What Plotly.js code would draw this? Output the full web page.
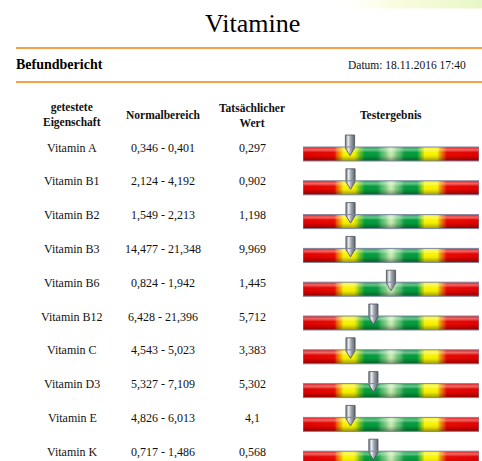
<!DOCTYPE html>
<html><head><meta charset="utf-8">
<script src="https://cdn.plot.ly/plotly-3.0.1.min.js"></script>
<style>html,body{margin:0;padding:0;background:#fff;} #chart{width:482px;height:461px;}</style>
</head><body><div id="chart"></div>
<script>
// ---- data ----
const vitamins = ['Vitamin A','Vitamin B1','Vitamin B2','Vitamin B3','Vitamin B6','Vitamin B12','Vitamin C','Vitamin D3','Vitamin E','Vitamin K'];
const rangeLow = [0.346, 2.124, 1.549, 14.477, 0.824, 6.428, 4.543, 5.327, 4.826, 0.717];
const rangeHigh = [0.401, 4.192, 2.213, 21.348, 1.942, 21.396, 5.023, 7.109, 6.013, 1.486];
const actualValue = [0.297, 0.902, 1.198, 9.969, 1.445, 5.712, 3.383, 5.302, 4.1, 0.568];
const pointerPos = [26.7, 27, 27, 27, 50, 40, 27, 40, 27, 40]; // pointer position on the gauge (0-100)
const headers = {name: 'getestete<br>Eigenschaft', range: 'Normalbereich', value: 'Tatsächlicher<br>Wert', gauge: 'Testergebnis'};
const gaugeStops = [[0,'#e00000'],[0.175,'#e80800'],[0.23,'#f8f400'],[0.29,'#f8f300'],[0.35,'#009c3c'],[0.42,'#089a40'],[0.5,'#cdeeb4'],[0.58,'#089a40'],[0.65,'#009c3c'],[0.69,'#f8f300'],[0.76,'#f8f400'],[0.815,'#e80800'],[1,'#e00000']];

// ---- layout constants ----
const W = 482, H = 461;
const firstRowPx = 154, rowStepPx = 33.8, barHalfPx = 7;
const gaugeLeftPx = 303, gaugeRightPx = 479;
const h = barHalfPx / rowStepPx;
const unitPerPx = 100 / (gaugeRightPx - gaugeLeftPx);
const pointerHalf = 4.6 * unitPerPx;
const fmt = v => String(v).replace('.', ',');
const py = px => 1 - px / H;
const SERIF = 'Liberation Serif';

const traces = [];
const shapes = [];
const annotations = [];

// gauge colour ramp
const nCells = 200;
const xEdges = [], zRow = [];
for (let k = 0; k <= nCells; k++) xEdges.push(k * 100 / nCells);
for (let k = 0; k < nCells; k++) zRow.push((k + 0.5) / nCells);

vitamins.forEach((name, i) => {
  // gauge bar
  traces.push({type:'heatmap', x: xEdges, y: [i - h, i + h], z: [zRow], zmin: 0, zmax: 1,
    colorscale: gaugeStops, showscale: false, hoverinfo: 'skip', xaxis: 'x', yaxis: 'y'});
  // glossy shading
  traces.push({type:'scatter', mode:'lines', x:[0,100,100,0,0], y:[i-h,i-h,i+h,i+h,i-h],
    line:{width:0}, fill:'toself', hoverinfo:'skip', showlegend:false,
    fillgradient:{type:'vertical', start: i - h, stop: i + h,
      colorscale:[[0,'rgba(255,255,255,0.1)'],[0.2,'rgba(255,255,255,0.4)'],[0.4,'rgba(255,255,255,0)'],[0.65,'rgba(0,0,0,0.05)'],[1,'rgba(0,0,0,0.38)']]}});
  shapes.push({type:'rect', xref:'x', yref:'y', x0:0, x1:100, y0:i-h, y1:i+h,
    line:{color:'#7c88a2', width:1}, layer:'above'});
  // pointer
  const p = pointerPos[i];
  const top = i - h - 12 / rowStepPx, shoulder = i - h + 1 / rowStepPx, tip = i + 1.5 / rowStepPx;
  traces.push({type:'scatter', mode:'lines',
    x:[p-pointerHalf, p+pointerHalf, p+pointerHalf, p, p-pointerHalf, p-pointerHalf],
    y:[top, top, shoulder, tip, shoulder, top],
    line:{color:'#4a505a', width:0.8}, fill:'toself', hoverinfo:'skip', showlegend:false,
    fillgradient:{type:'horizontal', start:p-pointerHalf, stop:p+pointerHalf,
      colorscale:[[0,'#70767e'],[0.3,'#eceef2'],[0.55,'#a2a8b0'],[1,'#5c626a']]}});
  // table cells
  const ty = i - 6.5 / rowStepPx;
  const cells = [[72, name], [163, fmt(rangeLow[i]) + ' - ' + fmt(rangeHigh[i])], [252, fmt(actualValue[i])]];
  cells.forEach(([cx, txt]) => annotations.push({xref:'paper', yref:'y', x: cx / W, y: ty, text: txt,
    showarrow:false, xanchor:'center', yanchor:'middle', font:{family:SERIF, size:12, color:'#111'}}));
});

// background glow (pixel axes)
traces.push({type:'scatter', mode:'lines', x:[340,482,482,340,340], y:[0,0,8.5,8.5,0], xaxis:'x2', yaxis:'y2',
  line:{width:0}, fill:'toself', hoverinfo:'skip', showlegend:false,
  fillgradient:{type:'horizontal', start:340, stop:482,
    colorscale:[[0,'rgba(255,255,240,0)'],[0.35,'rgba(250,252,222,0.9)'],[1,'rgba(232,247,198,1)']]}});

// title & header text
annotations.push({xref:'paper', yref:'paper', x:252/W, y:py(23), text:'Vitamine', showarrow:false,
  xanchor:'center', yanchor:'middle', font:{family:SERIF, size:26, color:'#000'}});
annotations.push({xref:'paper', yref:'paper', x:14/W, y:py(65), text:'<b>Befundbericht</b>', showarrow:false,
  xanchor:'left', yanchor:'middle', font:{family:SERIF, size:14, color:'#000'}});
annotations.push({xref:'paper', yref:'paper', x:468/W, y:py(65), text:'Datum: 18.11.2016 17:40', showarrow:false,
  xanchor:'right', yanchor:'middle', font:{family:SERIF, size:11.5, color:'#111'}});
[[72, headers.name], [163, headers.range], [252, headers.value], [391, headers.gauge]].forEach(([cx, t]) =>
  annotations.push({xref:'paper', yref:'paper', x:cx/W, y:py(115), text:'<b>'+t.split('<br>').join('</b><br><b>')+'</b>',
    showarrow:false, xanchor:'center', yanchor:'middle', font:{family:SERIF, size:11.5, color:'#111'}}));

// orange rules
[48, 82].forEach(yy => shapes.push({type:'line', xref:'paper', yref:'paper', x0:16/W, x1:1, y0:py(yy), y1:py(yy),
  line:{color:'#f8a048', width:2}}));

const layout = {
  width: W, height: H, margin:{l:0,r:0,t:0,b:0,pad:0},
  paper_bgcolor:'#fff', plot_bgcolor:'rgba(0,0,0,0)', showlegend:false,
  font:{family:SERIF},
  xaxis:{domain:[gaugeLeftPx/W, gaugeRightPx/W], range:[0,100], visible:false, fixedrange:true},
  yaxis:{domain:[0,1], range:[(H-firstRowPx)/rowStepPx, -firstRowPx/rowStepPx], visible:false, fixedrange:true},
  xaxis2:{domain:[0,1], range:[0,W], anchor:'y2', visible:false, fixedrange:true},
  yaxis2:{domain:[0,1], range:[H,0], anchor:'x2', visible:false, fixedrange:true},
  shapes, annotations
};
Plotly.newPlot('chart', traces, layout, {staticPlot:true, displayModeBar:false});
</script></body></html>
